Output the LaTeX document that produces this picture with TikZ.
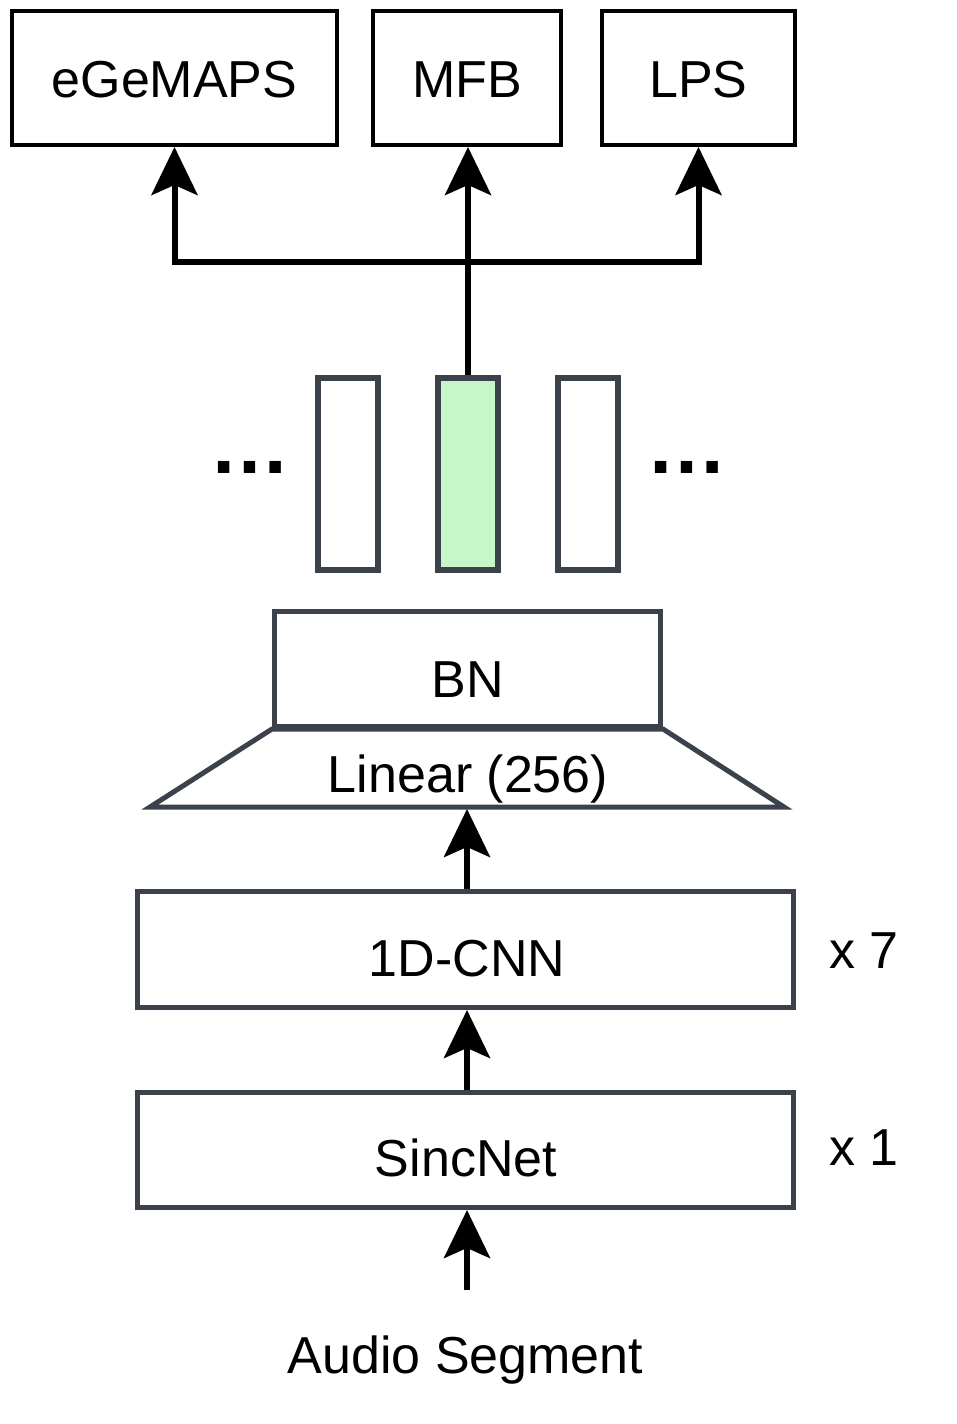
\documentclass[tikz,border=0pt]{standalone}
\usepackage{fontspec}
\setmainfont{Liberation Sans}
\usetikzlibrary{arrows.meta}
\definecolor{edgegrey}{HTML}{3B424B}
\definecolor{featgreen}{HTML}{C5F7C8}
\begin{document}
\begin{tikzpicture}[x=1pt,y=-1pt,
  topbox/.style={draw=black,line width=4pt,minimum width=#1,minimum height=134pt,inner sep=0pt},
  greybox/.style={draw=edgegrey,line width=5pt,inner sep=0pt},
  featbox/.style={draw=edgegrey,line width=6pt,minimum width=60pt,minimum height=192pt,inner sep=0pt},
  lbl/.style={anchor=base,inner sep=0pt,font=\fontsize{52}{60}\selectfont},
  dots/.style={inner sep=0pt,font=\fontsize{81}{90}\selectfont\bfseries},
  arr/.style={draw=black,line width=6pt,line join=miter,-{Stealth[length=48pt,width=46pt,inset=10pt]}},
  conn/.style={draw=black,line width=6pt,line join=miter}
]
\useasboundingbox (0,0) rectangle (956,1424);
% top boxes
\node[topbox=325pt] (ege) at (174.5,78) {};
\node[topbox=188pt] (mfb) at (467,78) {};
\node[topbox=193pt] (lps) at (698.5,78) {};
\node[lbl] (egetxt) at (174.5,97) {eGeMAPS};
\node[lbl] (mfbtxt) at (467,97) {MFB};
\node[lbl] (lpstxt) at (698.5,97) {LPS};
% feature columns
\node[featbox] (fl) at (348,474) {};
\node[featbox,fill=featgreen] (fg) at (468,474) {};
\node[featbox] (fr) at (588,474) {};
\node[dots] (dl) at (250,467) {…};
\node[dots] (dr) at (686.5,467) {…};
% connectors to top
\coordinate (j) at (468,262);
\draw[arr] (fg.north) -- (fg.north |- mfb.south);
\draw[arr] (j) -| (ege.south);
\draw[arr] (j) -| (lps.south);
% BN and linear
\node[greybox,minimum width=386pt,minimum height=115pt] (bn) at (467.5,669) {};
\node[lbl] (bntxt) at (467.5,697) {BN};
\draw[edgegrey,line width=5pt,line join=miter] (bn.south west) -- (bn.south east) -- (784,807) -- (150,807) -- cycle;
\node[lbl] (lin) at (468,792) {Linear (256)};
\coordinate (linb) at (467,809);
% CNN
\node[greybox,minimum width=656pt,minimum height=116pt] (cnn) at (465.5,949.5) {};
\node[lbl] (cnntxt) at (467,976) {1D-CNN};
\node[lbl,anchor=base west] (x7) at (829,968) {x 7};
% SincNet
\node[greybox,minimum width=656pt,minimum height=115pt] (sinc) at (465.5,1150) {};
\node[lbl] (sinctxt) at (466,1176) {SincNet};
\node[lbl,anchor=base west] (x1) at (829,1165) {x 1};
% audio
\node[lbl] (audio) at (465.5,1373) {Audio Segment};
\coordinate (ain) at (467,1290);
% arrows
\draw[arr] (cnn.north -| linb) -- (linb);
\draw[arr] (sinc.north -| linb) -- (cnn.south -| linb);
\draw[arr] (ain) -- (sinc.south -| ain);
\end{tikzpicture}
\end{document}
